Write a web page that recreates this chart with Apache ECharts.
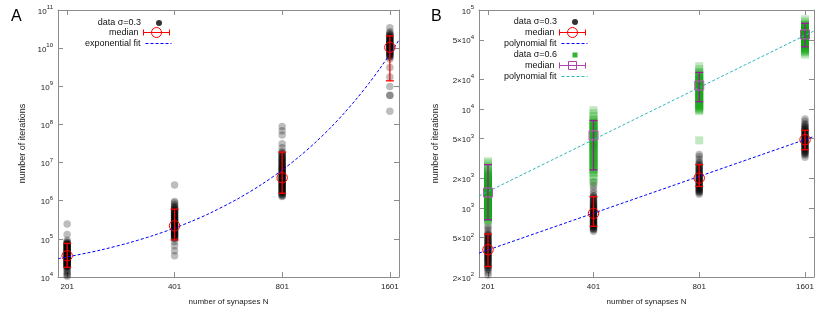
<!DOCTYPE html>
<html><head><meta charset="utf-8">
<script src="https://cdn.jsdelivr.net/npm/echarts@6/dist/echarts.min.js"></script>
<style>html,body{margin:0;padding:0;background:#fff}#c{width:830px;height:312px}</style>
</head><body><div id="c"></div>
<script>
// ---------- shared axis data ----------
const xTickVals = [201, 401, 801, 1601];
const xTickLabels = ['201', '401', '801', '1601'];
const xMin = 189.5, xMax = 1698;

const yTicksA = [1e4, 1e5, 1e6, 1e7, 1e8, 1e9, 1e10, 1e11];
const yLabelsA = [['10','4'],['10','5'],['10','6'],['10','7'],['10','8'],['10','9'],['10','10'],['10','11']];
const yTicksB = [200, 500, 1000, 2000, 5000, 10000, 20000, 50000, 100000];
const yLabelsB = [['2×10','2'],['5×10','2'],['10','3'],['2×10','3'],['5×10','3'],['10','4'],['2×10','4'],['5×10','4'],['10','5']];

// ---------- panel A : sigma = 0.3 ----------
const a201 = [10400, 11200, 12300, 13600, 15000, 16500, 18000, 18500, 19000, 19500, 20000, 20500, 21000, 21500, 22000, 22600, 23200, 23800, 24400, 25000, 25600, 26300, 27000, 27700, 28400, 29200, 30000, 30700, 31500, 32200, 33000, 34000, 35000, 36000, 37000, 38000, 39000, 40000, 41000, 42200, 43500, 44700, 46000, 47200, 48500, 49700, 51000, 52500, 54000, 55500, 57000, 58500, 60000, 62000, 64000, 66000, 68000, 70000, 72000, 74500, 77000, 80000, 83000, 92000, 130000, 245000];
const a401 = [36000, 49000, 66000, 84000, 100000, 104000, 108000, 112000, 116000, 120000, 124000, 128000, 132000, 136000, 140000, 145000, 150000, 155000, 160000, 165000, 170000, 175000, 180000, 186000, 192000, 198000, 205000, 211000, 218000, 225000, 232000, 240000, 248000, 256000, 265000, 274000, 283000, 291000, 300000, 310000, 320000, 332000, 345000, 357000, 370000, 385000, 400000, 415000, 430000, 447000, 465000, 482000, 500000, 520000, 540000, 565000, 590000, 620000, 650000, 680000, 720000, 800000, 880000, 960000, 2600000];
const a801 = [1.28e6, 1.34e6, 1.40e6, 1.47e6, 1.53e6, 1.60e6, 1.66e6, 1.73e6, 1.80e6, 1.87e6, 1.95e6, 2.02e6, 2.10e6, 2.17e6, 2.25e6, 2.33e6, 2.42e6, 2.51e6, 2.60e6, 2.70e6, 2.80e6, 2.90e6, 3.00e6, 3.10e6, 3.20e6, 3.32e6, 3.45e6, 3.57e6, 3.70e6, 3.82e6, 3.95e6, 4.10e6, 4.25e6, 4.40e6, 4.55e6, 4.72e6, 4.90e6, 5.07e6, 5.25e6, 5.45e6, 5.65e6, 5.87e6, 6.10e6, 6.35e6, 6.60e6, 6.85e6, 7.10e6, 7.40e6, 7.70e6, 8.05e6, 8.40e6, 8.80e6, 9.20e6, 9.60e6, 1.00e7, 1.05e7, 1.10e7, 1.15e7, 1.20e7, 1.26e7, 1.32e7, 1.39e7, 1.46e7, 1.54e7, 1.62e7, 1.71e7, 1.80e7, 1.95e7, 2.46e7, 3.10e7, 5.30e7, 6.80e7, 8.80e7];
const a1601 = [2.2e8, 5.7e8, 5.8e8, 9.8e8, 1.74e9, 3.1e9, 5.2e9, 5.8e9, 6.05e9, 6.3e9, 6.55e9, 6.8e9, 7.05e9, 7.3e9, 7.6e9, 7.9e9, 8.2e9, 8.5e9, 8.8e9, 9.1e9, 9.4e9, 9.7e9, 1.0e10, 1.03e10, 1.065e10, 1.10e10, 1.135e10, 1.17e10, 1.205e10, 1.24e10, 1.28e10, 1.32e10, 1.36e10, 1.40e10, 1.45e10, 1.50e10, 1.55e10, 1.60e10, 1.66e10, 1.72e10, 1.78e10, 1.85e10, 1.92e10, 2.00e10, 2.10e10, 2.20e10, 2.32e10, 2.45e10, 2.70e10, 3.40e10];
const medA = [36000, 220000, 4.0e6, 1.05e10];
const loA  = [18000, 94000, 1.57e6, 1.39e9];
const hiA  = [76000, 600000, 1.88e7, 2.1e10];
const fitNA = [189.5, 201, 250, 300, 350, 401, 450, 500, 600, 700, 801, 900, 1000, 1100, 1200, 1300, 1400, 1500, 1601, 1698];
const fitA  = [3.02e4, 3.34e4, 5.13e4, 7.94e4, 1.23e5, 1.92e5, 2.95e5, 4.57e5, 1.10e6, 2.63e6, 6.37e6, 1.51e7, 3.63e7, 8.71e7, 2.09e8, 5.01e8, 1.20e9, 2.88e9, 6.98e9, 1.63e10];

// ---------- panel B ----------
const b3_201 = [210, 222, 235, 241, 248, 253, 258, 263, 268, 273, 278, 283, 288, 293, 298, 303, 308, 313, 318, 323, 328, 334, 340, 346, 352, 358, 364, 370, 376, 383, 390, 397, 404, 411, 418, 426, 434, 442, 450, 459, 468, 477, 487, 497, 507, 518, 530, 542, 555, 590, 625, 655];
const b3_401 = [580, 600, 610, 620, 630, 640, 650, 660, 670, 680, 690, 700, 711, 722, 733, 745, 756, 768, 780, 792, 805, 818, 831, 845, 858, 872, 886, 900, 915, 930, 945, 960, 977, 995, 1012, 1030, 1050, 1070, 1090, 1110, 1135, 1160, 1185, 1210, 1240, 1270, 1300, 1330, 1420, 1530, 1660, 1810];
const b3_801 = [1370, 1420, 1445, 1470, 1495, 1520, 1548, 1575, 1602, 1630, 1660, 1690, 1720, 1750, 1780, 1810, 1842, 1875, 1907, 1940, 1975, 2010, 2045, 2080, 2115, 2150, 2190, 2230, 2270, 2310, 2355, 2400, 2450, 2500, 2555, 2610, 2675, 2740, 2820, 2900, 3100, 3300, 3460];
const b3_1601 = [3250, 3420, 3500, 3580, 3650, 3720, 3790, 3860, 3930, 4000, 4070, 4140, 4210, 4280, 4350, 4420, 4495, 4570, 4645, 4720, 4795, 4870, 4950, 5030, 5110, 5190, 5275, 5360, 5450, 5540, 5635, 5730, 5830, 5930, 6040, 6150, 6275, 6400, 6550, 6700, 6900, 7100, 7500, 7900];
const medB3 = [377, 879, 2000, 4890];
const loB3  = [255, 652, 1646, 3865];
const hiB3  = [545, 1300, 2735, 6080];

const b6_201 = [735, 752, 770, 787, 805, 822, 840, 860, 880, 900, 920, 940, 960, 980, 1000, 1022, 1045, 1067, 1090, 1115, 1140, 1165, 1190, 1215, 1240, 1267, 1295, 1322, 1350, 1380, 1410, 1440, 1470, 1502, 1535, 1567, 1600, 1635, 1670, 1707, 1745, 1782, 1820, 1860, 1900, 1945, 1990, 2040, 2090, 2145, 2200, 2265, 2330, 2400, 2480, 2650, 2820, 2960];
const b6_401 = [1810, 1950, 2100, 2250, 2320, 2400, 2475, 2550, 2625, 2700, 2775, 2850, 2925, 3000, 3090, 3180, 3270, 3360, 3455, 3550, 3650, 3750, 3850, 3950, 4050, 4150, 4250, 4350, 4450, 4550, 4665, 4780, 4900, 5020, 5145, 5270, 5400, 5530, 5665, 5800, 5940, 6080, 6230, 6380, 6540, 6700, 6875, 7050, 7250, 7450, 7675, 7900, 8450, 9050, 9700];
const b6_801 = [4810, 9500, 9750, 10000, 10250, 10500, 10750, 11000, 11300, 11600, 11900, 12200, 12500, 12800, 13100, 13400, 13700, 14000, 14350, 14700, 15050, 15400, 15750, 16100, 16500, 16900, 17300, 17700, 18100, 18500, 18950, 19400, 19850, 20300, 20800, 21300, 21850, 22400, 23000, 23600, 25200, 27000];
const b6_1601 = [35400, 37200, 38100, 39000, 39900, 40800, 41700, 42600, 43500, 44400, 45300, 46200, 47100, 48000, 48900, 49800, 50700, 51600, 52500, 53400, 54300, 55200, 56100, 57000, 57900, 58800, 59800, 60800, 61800, 62800, 63800, 64800, 65900, 67000, 68200, 69500, 71000, 72500, 76000, 80500];
const medB6 = [1428, 5410, 17250, 56600];
const loB6  = [758, 2415, 11830, 42500];
const hiB6  = [2735, 7640, 23400, 73300];

const fitNB = [189.5, 1698];
const fitB3 = [349, 5270];
const fitB6 = [1318, 61400];

// ---------- helpers ----------
const FONT = 'Liberation Sans, Arial, Helvetica, sans-serif';
const AX = '#8c8c8c';
function nearest(arr, v) {
  let bi = 0, bd = Infinity;
  arr.forEach((a, i) => { const d = Math.abs(Math.log(a) - Math.log(v)); if (d < bd) { bd = d; bi = i; } });
  return bi;
}
function cols(groups) {
  const out = [];
  groups.forEach((g, i) => g.forEach(v => out.push([xTickVals[i], v])));
  return out;
}
function errRows(med, lo, hi) { return xTickVals.map((n, i) => [n, med[i], lo[i], hi[i]]); }
function pairs(xs, ys) { return xs.map((x, i) => [x, ys[i]]); }

function xAxis(grid, pos, main) {
  return {
    type: 'log', logBase: 2, gridIndex: grid, position: pos, min: xMin, max: xMax,
    axisLine: { show: true, onZero: false, lineStyle: { color: AX, width: 1 } },
    axisTick: { show: true, inside: true, length: 5, customValues: xTickVals, lineStyle: { color: AX } },
    axisLabel: { show: main, customValues: xTickVals, margin: 6, fontSize: 8, color: '#222', fontFamily: FONT,
      formatter: v => xTickLabels[nearest(xTickVals, v)] },
    splitLine: { show: false }, minorTick: { show: false },
    name: main ? 'number of synapses N' : '', nameLocation: 'middle', nameGap: 21,
    nameTextStyle: { fontSize: 8, color: '#222', fontFamily: FONT }
  };
}
function yAxis(grid, pos, main, ticks, labels, min, max, gap) {
  return {
    type: 'log', logBase: 10, gridIndex: grid, position: pos, min: min, max: max,
    axisLine: { show: true, onZero: false, lineStyle: { color: AX, width: 1 } },
    axisTick: { show: true, inside: true, length: 5, customValues: ticks, lineStyle: { color: AX } },
    axisLabel: { show: main, customValues: ticks, margin: 5, color: '#222', fontFamily: FONT,
      formatter: v => { const l = labels[nearest(ticks, v)]; return '{b|' + l[0] + '}{s|' + l[1] + '}'; },
      rich: {
        b: { fontSize: 8, fontFamily: FONT, color: '#222', lineHeight: 11, verticalAlign: 'bottom' },
        s: { fontSize: 6, fontFamily: FONT, color: '#222', lineHeight: 7, verticalAlign: 'top' }
      } },
    splitLine: { show: false }, minorTick: { show: false },
    name: main ? 'number of iterations' : '', nameLocation: 'middle', nameGap: gap, nameRotate: 90,
    nameTextStyle: { fontSize: 9, color: '#222', fontFamily: FONT }
  };
}

function errRender(barColor, markColor, shape) {
  return function (params, api) {
    const x = api.value(0);
    const pm = api.coord([x, api.value(1)]);
    const pl = api.coord([x, api.value(2)]);
    const ph = api.coord([x, api.value(3)]);
    const cw = 4;
    const ls = { stroke: barColor, lineWidth: 1.3, fill: null };
    const ch = [
      { type: 'line', shape: { x1: pl[0], y1: pl[1], x2: ph[0], y2: ph[1] }, style: ls },
      { type: 'line', shape: { x1: pl[0] - cw, y1: pl[1], x2: pl[0] + cw, y2: pl[1] }, style: ls },
      { type: 'line', shape: { x1: ph[0] - cw, y1: ph[1], x2: ph[0] + cw, y2: ph[1] }, style: ls }
    ];
    if (shape === 'circle') {
      ch.push({ type: 'circle', shape: { cx: pm[0], cy: pm[1], r: 5.2 }, style: { fill: null, stroke: markColor, lineWidth: 1 } });
    } else {
      ch.push({ type: 'rect', shape: { x: pm[0] - 4.5, y: pm[1] - 4.5, width: 9, height: 9 }, style: { fill: null, stroke: markColor, lineWidth: 1 } });
    }
    return { type: 'group', children: ch };
  };
}

const ICON_DOT = 'path://M0,0M26,10M16,5A3,3,0,1,1,10,5A3,3,0,1,1,16,5Z';
const ICON_SQ = 'path://M0,0M26,10M10.5,2.5L15.5,2.5L15.5,7.5L10.5,7.5Z';
const ICON_MEDC = 'path://M0,5L26,5M0,2L0,8M26,2L26,8M18,5A5,5,0,1,1,8,5A5,5,0,1,1,18,5';
const ICON_MEDS = 'path://M0,0M26,10M0,5L26,5M0,2L0,8M26,2L26,8M9,1L17,1L17,9L9,9Z';
const NOSYM = { color: 'rgba(0,0,0,0)', borderWidth: 0 };

function legend(name, label, top, right, icon, itemStyle, lineColor) {
  const d = { name: name };
  if (icon) d.icon = icon;
  if (itemStyle) d.itemStyle = itemStyle;
  if (lineColor) d.lineStyle = { color: lineColor, width: 1, type: [3, 2] };
  return {
    data: [d], formatter: label, top: top, right: right, align: 'right', orient: 'horizontal',
    itemWidth: 26, itemHeight: 10, itemGap: 0, padding: 0, selectedMode: false,
    lineStyle: lineColor ? { color: lineColor, width: 1, type: [3, 2] } : { width: 1 },
    textStyle: { fontSize: 9, color: '#111', fontFamily: FONT, padding: [0, 0, 0, 0] }
  };
}

const DOTC = 'rgba(0,0,0,0.32)';
const GRNC = 'rgba(0,160,0,0.3)';

const option = {
  animation: false,
  backgroundColor: '#fff',
  grid: [
    { left: 58, right: 431, top: 10, bottom: 35, containLabel: false },
    { left: 479, right: 16, top: 10, bottom: 35, containLabel: false }
  ],
  xAxis: [xAxis(0, 'bottom', true), xAxis(0, 'top', false), xAxis(1, 'bottom', true), xAxis(1, 'top', false)],
  yAxis: [
    yAxis(0, 'left', true, yTicksA, yLabelsA, 1e4, 1e11, 31),
    yAxis(0, 'right', false, yTicksA, yLabelsA, 1e4, 1e11, 31),
    yAxis(1, 'left', true, yTicksB, yLabelsB, 200, 1e5, 39),
    yAxis(1, 'right', false, yTicksB, yLabelsB, 200, 1e5, 39)
  ],
  legend: [
    legend('A data', 'data σ=0.3', 18, 658, ICON_DOT, { color: '#000', borderWidth: 0 }),
    legend('A median', 'median', 25, 658, ICON_MEDC, { color: 'none', borderColor: '#ff0000', borderWidth: 1 }),
    legend('A fit', 'exponential fit', 39, 658, null, NOSYM, '#0000ff'),
    legend('B data3', 'data σ=0.3', 17, 242, ICON_DOT, { color: '#000', borderWidth: 0 }),
    legend('B median3', 'median', 25, 242, ICON_MEDC, { color: 'none', borderColor: '#ff0000', borderWidth: 1 }),
    legend('B fit3', 'polynomial fit', 39, 242, null, NOSYM, '#0000ff'),
    legend('B data6', 'data σ=0.6', 50, 242, ICON_SQ, { color: '#00a000', borderWidth: 0 }),
    legend('B median6', 'median', 58, 242, ICON_MEDS, { color: 'none', borderColor: '#b040b0', borderWidth: 1 }),
    legend('B fit6', 'polynomial fit', 72, 242, null, NOSYM, '#2fb8b8')
  ],
  graphic: [
    { type: 'text', left: 11, top: 9, style: { text: 'A', fontSize: 16, fontFamily: FONT, fill: '#000' } },
    { type: 'text', left: 431, top: 9, style: { text: 'B', fontSize: 16, fontFamily: FONT, fill: '#000' } }
  ],
  series: [
    { name: 'A data', type: 'scatter', xAxisIndex: 0, yAxisIndex: 0, symbol: 'circle', symbolSize: 7.5,
      itemStyle: { color: DOTC }, data: cols([a201, a401, a801, a1601]), z: 2 },
    { name: 'A fit', type: 'line', xAxisIndex: 0, yAxisIndex: 0, symbol: 'none', smooth: 0.3,
      lineStyle: { color: '#0000ff', width: 1, type: [3, 2] }, itemStyle: { color: '#0000ff' }, data: pairs(fitNA, fitA), z: 3 },
    { name: 'A median', type: 'custom', xAxisIndex: 0, yAxisIndex: 0, renderItem: errRender('#ff0000', '#ff0000', 'circle'),
      itemStyle: { color: '#ff0000' }, encode: { x: 0, y: [1, 2, 3] }, data: errRows(medA, loA, hiA), z: 4 },

    { name: 'B data3', type: 'scatter', xAxisIndex: 2, yAxisIndex: 2, symbol: 'circle', symbolSize: 7.5,
      itemStyle: { color: DOTC }, data: cols([b3_201, b3_401, b3_801, b3_1601]), z: 2 },
    { name: 'B median3', type: 'custom', xAxisIndex: 2, yAxisIndex: 2, renderItem: errRender('#ff0000', '#ff0000', 'circle'),
      itemStyle: { color: '#ff0000' }, encode: { x: 0, y: [1, 2, 3] }, data: errRows(medB3, loB3, hiB3), z: 4 },
    { name: 'B fit3', type: 'line', xAxisIndex: 2, yAxisIndex: 2, symbol: 'none',
      lineStyle: { color: '#0000ff', width: 1, type: [3, 2] }, itemStyle: { color: '#0000ff' }, data: pairs(fitNB, fitB3), z: 3 },
    { name: 'B data6', type: 'scatter', xAxisIndex: 2, yAxisIndex: 2, symbol: 'rect', symbolSize: 8,
      itemStyle: { color: GRNC }, data: cols([b6_201, b6_401, b6_801, b6_1601]), z: 2 },
    { name: 'B median6', type: 'custom', xAxisIndex: 2, yAxisIndex: 2, renderItem: errRender('#9a1a9a', '#c050c0', 'square'),
      itemStyle: { color: '#b040b0' }, encode: { x: 0, y: [1, 2, 3] }, data: errRows(medB6, loB6, hiB6), z: 4 },
    { name: 'B fit6', type: 'line', xAxisIndex: 2, yAxisIndex: 2, symbol: 'none',
      lineStyle: { color: '#2fb8b8', width: 1, type: [3, 2] }, itemStyle: { color: '#2fb8b8' }, data: pairs(fitNB, fitB6), z: 3 }
  ]
};

const chart = echarts.init(document.getElementById('c'), null, { renderer: 'canvas' });
chart.setOption(option);
</script>
</body></html>
